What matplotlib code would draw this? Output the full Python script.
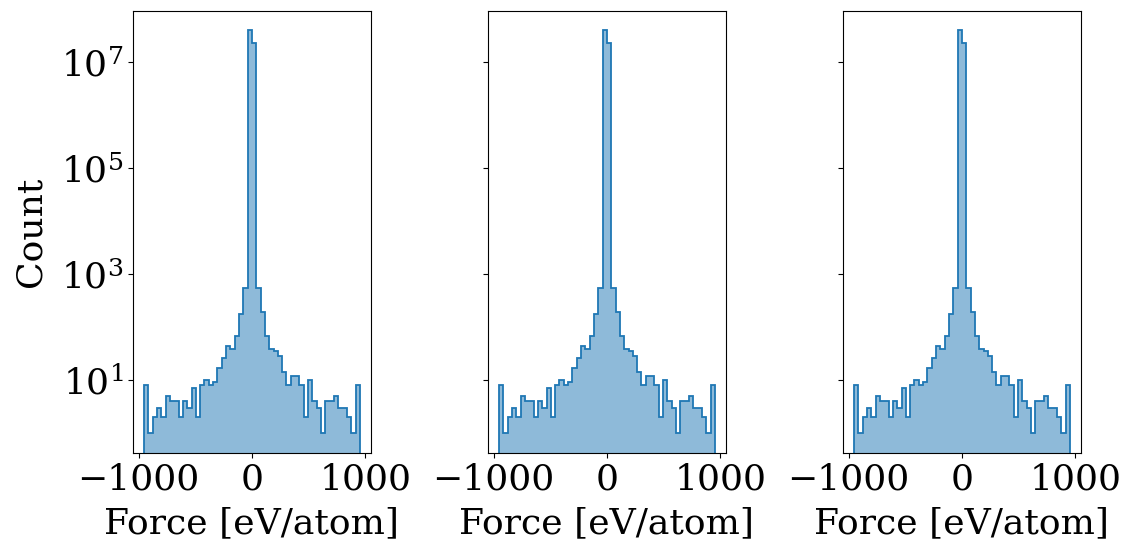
import numpy as np
import matplotlib
matplotlib.use("Agg")
import matplotlib.pyplot as plt
from matplotlib.ticker import NullLocator, FixedLocator

plt.rcParams['font.family'] = ['DejaVu Serif']
plt.rcParams['mathtext.fontset'] = 'dejavuserif'
plt.rcParams['font.size'] = 26

# Histogram bin range (eV/atom) and number of bins
force_min = -952.0
force_max = 952.0
n_bins = 50

# Counts per bin (left to right)
counts_panel1 = [8, 1, 2, 3, 2, 5, 4, 4, 2, 4, 3, 7, 2, 8, 10, 8, 9, 17, 26, 44,
                 38, 69, 174, 550, 4.1e7, 2.3e7, 550, 190, 69, 38, 35, 28, 14, 8, 12, 12, 8, 2, 10, 4,
                 3, 1, 4, 4, 5, 3, 3, 2, 1, 8]
counts_panel2 = [8, 1, 2, 3, 2, 5, 4, 4, 2, 4, 3, 7, 2, 8, 10, 8, 9, 17, 26, 44,
                 38, 69, 174, 550, 4.1e7, 2.3e7, 550, 190, 69, 38, 35, 28, 14, 8, 12, 12, 8, 2, 10, 4,
                 3, 1, 4, 4, 5, 3, 3, 2, 1, 8]
counts_panel3 = [8, 1, 2, 3, 2, 5, 4, 4, 2, 4, 3, 7, 2, 8, 10, 8, 9, 17, 26, 44,
                 38, 69, 174, 550, 4.1e7, 2.3e7, 550, 190, 69, 38, 35, 28, 14, 8, 12, 12, 8, 2, 10, 4,
                 3, 1, 4, 4, 5, 3, 3, 2, 1, 8]

x_ticks = [-1000, 0, 1000]
x_label = "Force [eV/atom]"
y_label = "Count"
y_ticks = [1e1, 1e3, 1e5, 1e7]

edges = np.linspace(force_min, force_max, n_bins + 1)

fig = plt.figure(figsize=(11.26, 5.45), dpi=100)
W, H = 1126, 545
lefts = [133.3, 488.3, 843.3]
aw = 237.3
top_px, bot_px = 10.7, 453.0
axes = []
for i, l in enumerate(lefts):
    ax = fig.add_axes([l / W, 1 - bot_px / H, aw / W, (bot_px - top_px) / H],
                      sharey=axes[0] if axes else None)
    axes.append(ax)

for ax, counts in zip(axes, [counts_panel1, counts_panel2, counts_panel3]):
    c = np.asarray(counts, dtype=float)
    ax.stairs(c, edges, baseline=1e-3, fill=True, color='#1f77b4', alpha=0.5, lw=0)
    ax.stairs(c, edges, baseline=1e-3, color='#1f77b4', lw=1.3)
    ax.set_yscale('log')
    ax.set_xlim(-1047, 1047)
    ax.xaxis.set_major_locator(FixedLocator(x_ticks))
    ax.set_xlabel(x_label, labelpad=7)
    ax.yaxis.set_major_locator(FixedLocator(y_ticks))
    ax.yaxis.set_minor_locator(NullLocator())

axes[0].set_ylim(10 ** -0.377, 10 ** 7.974)
axes[0].set_ylabel(y_label, labelpad=10)
for ax in axes[1:]:
    ax.tick_params(labelleft=False)

fig.savefig("out.png", dpi=100)
